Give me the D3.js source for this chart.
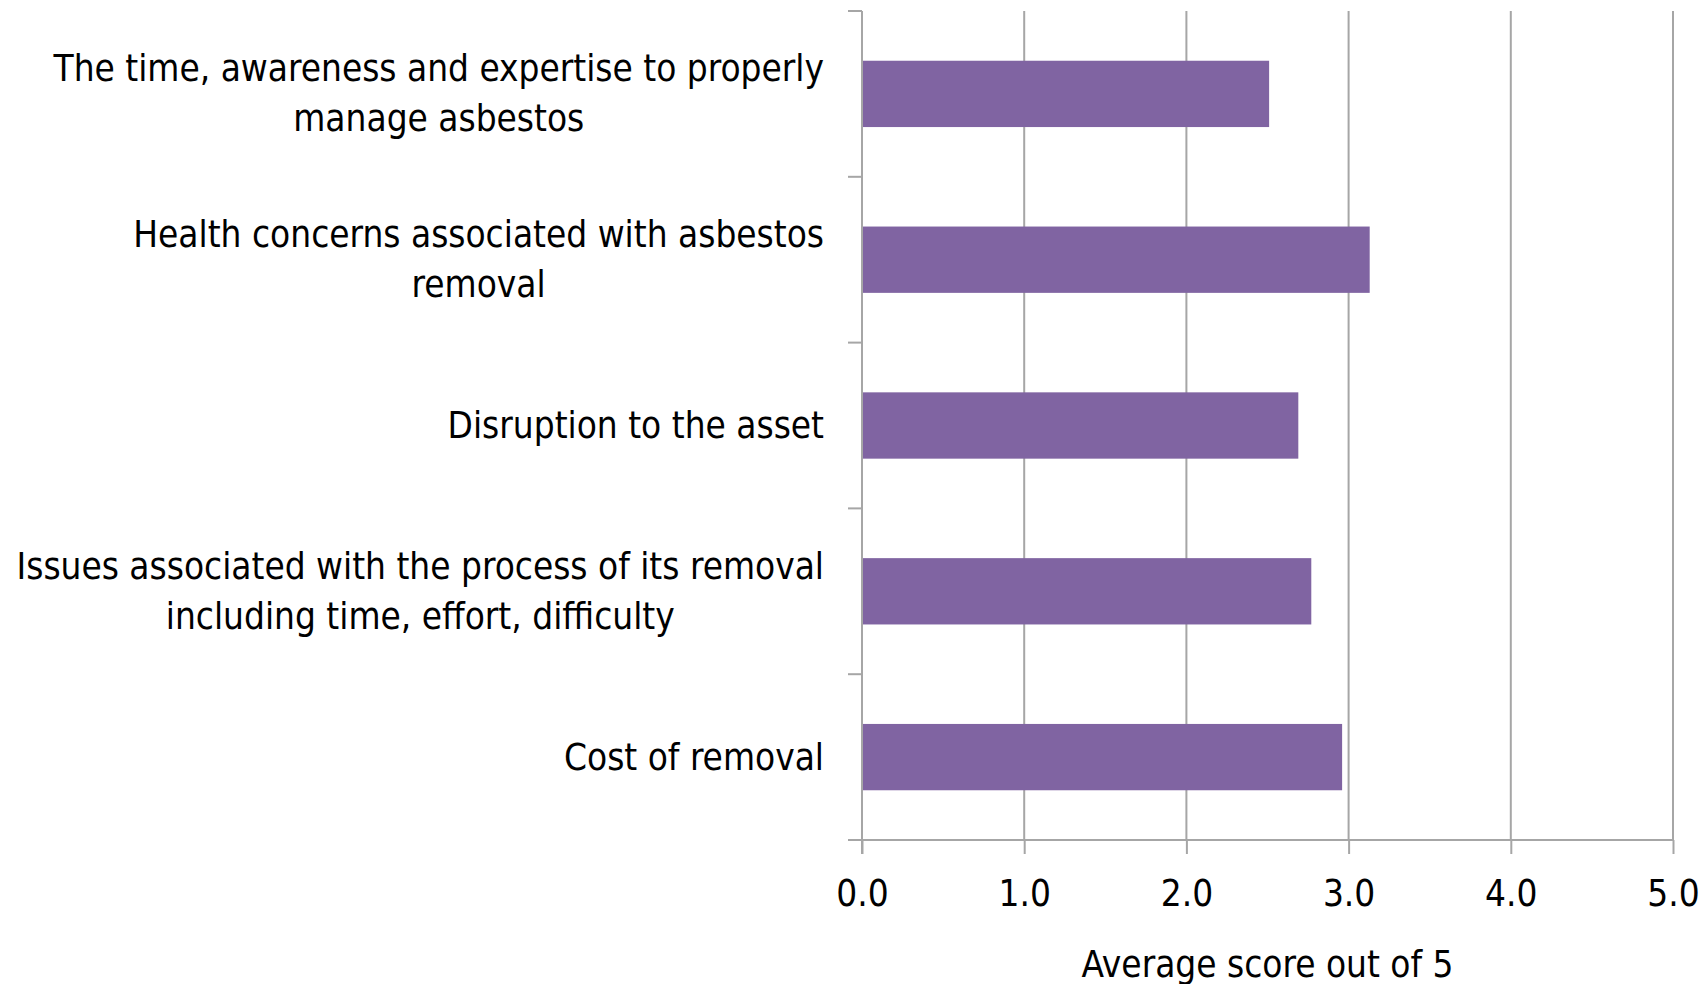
<!DOCTYPE html>
<html>
<head>
<meta charset="utf-8">
<script src="https://cdn.jsdelivr.net/npm/d3@7"></script>
<style>
  html, body { margin: 0; padding: 0; background: #ffffff; }
  svg { display: block; }
  text { font-family: "Liberation Sans Narrow", "DejaVu Sans Condensed", "Liberation Sans", sans-serif; fill: #000; }
</style>
</head>
<body>
<svg id="chart" width="1706" height="984"></svg>
<script>
// ---- data ----
const categories = [
  ["The time, awareness and expertise to properly", "manage asbestos"],
  ["Health concerns associated with asbestos", "removal"],
  ["Disruption to the asset"],
  ["Issues associated with the process of its removal", "including time, effort, difficulty"],
  ["Cost of removal"]
];
const values = [2.51, 3.13, 2.69, 2.77, 2.96];
const xTicks = [0, 1, 2, 3, 4, 5];
const xTitle = "Average score out of 5";

// ---- layout ----
const W = 1706, H = 984;
const plot = { left: 862, right: 1673, top: 11, bottom: 840 };
const gridColor = "#a6a6a6";
const barColor = "#8064a2";
const tickLen = 14;

const svg = d3.select("#chart");

const x = d3.scaleLinear().domain([0, 5]).range([plot.left, plot.right]);
const y = d3.scaleBand()
  .domain(d3.range(categories.length))
  .range([plot.top, plot.bottom])
  .paddingInner(0.6)
  .paddingOuter(0.3);

// determine font size: fit the widest label line to reference width
const probe = svg.append("text").attr("font-size", 40).text(categories[3][0]);
const probeW = probe.node().getComputedTextLength();
probe.remove();
const fs = Math.max(28, Math.min(44, 40 * 808 / probeW));

// gridlines
svg.append("g").selectAll("line")
  .data(xTicks.filter(d => d > 0))
  .join("line")
  .attr("x1", d => x(d)).attr("x2", d => x(d))
  .attr("y1", plot.top).attr("y2", plot.bottom)
  .attr("stroke", gridColor).attr("stroke-width", 2);

// bars
svg.append("g").selectAll("rect")
  .data(values)
  .join("rect")
  .attr("x", x(0))
  .attr("y", (d, i) => y(i))
  .attr("width", d => x(d) - x(0))
  .attr("height", y.bandwidth())
  .attr("fill", barColor);

// y axis line with category boundary ticks
const boundaries = d3.range(categories.length + 1).map(i => plot.top + i * (plot.bottom - plot.top) / categories.length);
const gy = svg.append("g");
gy.append("line")
  .attr("x1", x(0)).attr("x2", x(0))
  .attr("y1", plot.top).attr("y2", plot.bottom + tickLen)
  .attr("stroke", gridColor).attr("stroke-width", 2);
gy.selectAll("line.tk")
  .data(boundaries)
  .join("line").attr("class", "tk")
  .attr("x1", x(0) - tickLen).attr("x2", x(0))
  .attr("y1", d => d).attr("y2", d => d)
  .attr("stroke", gridColor).attr("stroke-width", 2);

// x axis
const xAxis = d3.axisBottom(x)
  .tickValues(xTicks)
  .tickFormat(d3.format(".1f"))
  .tickSize(tickLen)
  .tickSizeOuter(0)
  .tickPadding(20);
const gx = svg.append("g")
  .attr("transform", `translate(0,${plot.bottom})`)
  .call(xAxis);
gx.select(".domain").attr("stroke", gridColor).attr("stroke-width", 2)
  .attr("d", `M${x(0) - tickLen},0H${x(5)}`);
gx.selectAll(".tick line").attr("stroke", gridColor).attr("stroke-width", 2);
gx.selectAll(".tick text")
  .attr("font-size", fs)
  .attr("font-family", null)
  .attr("fill", "#000")
  .attr("dy", null)
  .attr("y", 53)
  .attr("dominant-baseline", "central");

// x title
svg.append("text")
  .attr("x", (plot.left + plot.right) / 2)
  .attr("y", 964)
  .attr("text-anchor", "middle")
  .attr("dominant-baseline", "central")
  .attr("font-size", fs)
  .text(xTitle);

// category labels
const labelRight = 824;
const lineH = 50;
categories.forEach((lines, i) => {
  const g = svg.append("g");
  const cy = y(i) + y.bandwidth() / 2;
  const texts = lines.map((ln, k) => g.append("text")
    .attr("font-size", fs)
    .attr("text-anchor", "middle")
    .attr("dominant-baseline", "central")
    .attr("y", cy + (k - (lines.length - 1) / 2) * lineH)
    .text(ln));
  const maxW = d3.max(texts, t => t.node().getComputedTextLength());
  texts.forEach(t => t.attr("x", labelRight - maxW / 2));
});
</script>
</body>
</html>
